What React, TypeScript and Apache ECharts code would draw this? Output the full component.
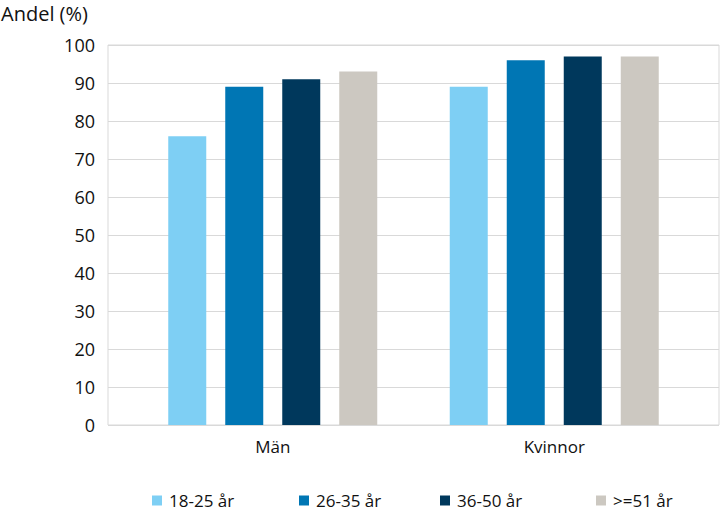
import React, { useEffect, useRef } from "react";
import * as echarts from "echarts";

const categories = ["Män", "Kvinnor"];
const seriesNames = ["18-25 år", "26-35 år", "36-50 år", ">=51 år"];
const values18_25 = [76, 89];
const values26_35 = [89, 96];
const values36_50 = [91, 97];
const values51plus = [93, 97];
const colors = ["#7ecff4", "#0076b4", "#00385c", "#ccc8c1"];
const legendLefts = [152, 299, 440, 596];

const FONT = "'Open Sans', sans-serif";

export default function App() {
  const ref = useRef<HTMLDivElement>(null);
  useEffect(() => {
    if (!ref.current) return;
    const chart = echarts.init(ref.current, undefined, { renderer: "svg" });
    const allValues = [values18_25, values26_35, values36_50, values51plus];
    chart.setOption({
      animation: false,
      textStyle: { fontFamily: FONT },
      graphic: [
        {
          type: "text",
          left: 1,
          top: 3,
          style: { text: "Andel (%)", fontSize: 20, fill: "#111", fontFamily: FONT },
        },
      ],
      grid: [
        { left: 108, right: 2, top: 45, bottom: 90, show: true, borderColor: "#d9d9d9", borderWidth: 1 },
        { left: 132, right: 26, top: 45, bottom: 90 },
      ],
      xAxis: [
        { type: "category", gridIndex: 0, data: categories, show: false },
        {
          type: "category",
          gridIndex: 1,
          data: categories,
          axisLine: { show: false },
          axisTick: { show: false },
          axisLabel: { fontSize: 17, color: "#111", margin: 13, fontFamily: FONT },
        },
      ],
      yAxis: [
        {
          type: "value",
          gridIndex: 0,
          min: 0,
          max: 100,
          interval: 10,
          axisLine: { show: false },
          axisTick: { show: false },
          splitLine: { lineStyle: { color: "#d9d9d9", width: 1 } },
          axisLabel: { fontSize: 18, color: "#111", margin: 13, fontFamily: FONT },
        },
        { type: "value", gridIndex: 1, min: 0, max: 100, show: false },
      ],
      legend: seriesNames.map((name, i) => ({
        data: [name],
        left: legendLefts[i],
        top: 492,
        padding: 0,
        itemWidth: 10,
        itemHeight: 10,
        icon: "rect",
        itemGap: 6,
        textStyle: { fontSize: 17, color: "#111", fontFamily: FONT, padding: [0, 0, 0, 2] },
      })),
      series: seriesNames.map((name, i) => ({
        name,
        type: "bar",
        xAxisIndex: 1,
        yAxisIndex: 1,
        data: allValues[i],
        barWidth: 38,
        barGap: "50%",
        itemStyle: { color: colors[i] },
      })),
    });
    return () => chart.dispose();
  }, []);
  return <div ref={ref} style={{ width: 721, height: 515, position: "absolute", left: 0, top: 0 }} />;
}
